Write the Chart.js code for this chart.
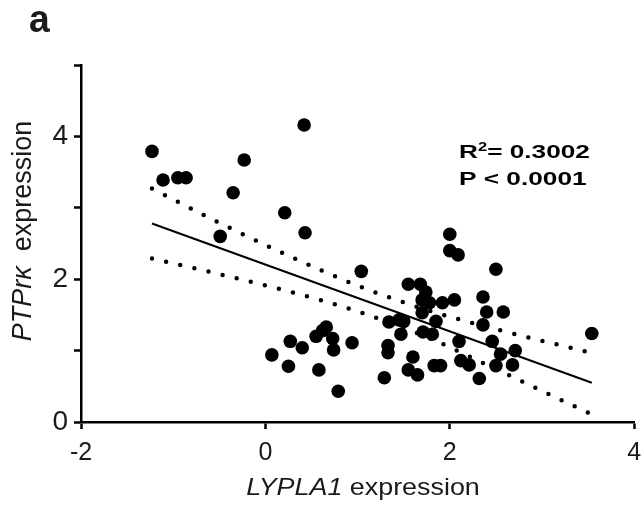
<!DOCTYPE html>
<html>
<head>
<meta charset="utf-8">
<script src="https://cdn.jsdelivr.net/npm/chart.js@4.4.0/dist/chart.umd.min.js"></script>
<style>
  html, body { margin: 0; padding: 0; background: #fff; }
  #wrap { width: 641px; height: 511px; }
</style>
</head>
<body>
<div id="wrap"><canvas id="canvas" width="641" height="511"></canvas></div>
<script>
// LYPLA1 (x) vs PTPrk (y) expression
const lyplaX = [-1.23, -1.11, -0.95, -0.86, -0.23, -0.35, -0.49, 0.21, 0.42, 0.43,
    1.04, 1.55, 1.68, 1.74, 1.70, 1.78, 1.92, 2.05, 1.70, 1.85,
    1.50, 1.47, 1.34, 1.45, 1.71, 1.81, 2.10, 2.00, 2.00, 2.09,
    2.50, 2.36, 2.40, 2.58, 2.36, 2.46, 2.55, 2.71, 2.68, 2.50,
    2.12, 2.21, 2.32, 1.60, 1.55, 1.65, 1.83, 1.90, 3.54, 1.33,
    1.33, 1.29, 0.66, 0.55, 0.73, 0.27, 0.40, 0.74, 0.94, 0.07,
    0.25, 0.58, 0.79, 0.62];
const ptprkY = [3.79, 3.39, 3.42, 3.42, 3.67, 3.21, 2.60, 2.93, 4.16, 2.65,
    2.11, 1.93, 1.93, 1.82, 1.71, 1.67, 1.67, 1.71, 1.53, 1.41,
    1.41, 1.23, 1.40, 1.43, 1.26, 1.23, 1.13, 2.63, 2.40, 2.34,
    2.14, 1.75, 1.54, 1.54, 1.36, 1.13, 0.95, 1.00, 0.80, 0.79,
    0.86, 0.80, 0.61, 0.91, 0.73, 0.66, 0.79, 0.79, 1.24, 1.07,
    0.97, 0.62, 1.33, 1.20, 1.17, 1.13, 1.04, 1.01, 1.11, 0.94,
    0.78, 0.73, 0.43, 1.28];

// fitted line end points
const fitX = [-1.23, 3.54];
const fitY = [2.78, 0.55];

// 95% band, read at a few x positions
const bandX = [-1.23, -0.5, 0.25, 1.0, 1.75, 2.5, 3.5];
const bandUpper = [3.27, 2.79, 2.33, 1.91, 1.57, 1.30, 0.98];
const bandLower = [2.29, 2.07, 1.83, 1.55, 1.19, 0.74, 0.13];

const xTicks = [-2, 0, 2, 4];
const yTickLabels = [0, 2, 4];

const FONT = '"Liberation Sans", Arial, sans-serif';

function toPoints(xs, ys) {
    return xs.map((x, i) => ({ x: x, y: ys[i] }));
}

// draws mixed italic/regular text stretched horizontally by sx
function mixedText(ctx, parts, x, y, size, sx) {
    ctx.save();
    ctx.translate(x, y);
    ctx.scale(sx, 1);
    let cx = 0;
    parts.forEach(p => {
        ctx.font = p.style + ' ' + size + 'px ' + FONT;
        ctx.fillText(p.text, cx, 0);
        cx += ctx.measureText(p.text).width;
    });
    ctx.restore();
    return cx * sx;
}

function textWidth(ctx, parts, size, sx) {
    let w = 0;
    parts.forEach(p => {
        ctx.font = p.style + ' ' + size + 'px ' + FONT;
        w += ctx.measureText(p.text).width;
    });
    return w * sx;
}

const textPlugin = {
    id: 'texts',
    afterDraw(chart) {
        const ctx = chart.ctx;
        ctx.save();
        ctx.fillStyle = '#1a1a1a';
        ctx.textBaseline = 'alphabetic';

        // panel letter
        mixedText(ctx, [{ style: 'bold', text: 'a' }], 29, 32, 38, 0.98);

        // stats
        ctx.fillStyle = '#000';
        const sx = 1.38;
        const wR = mixedText(ctx, [{ style: 'bold', text: 'R' }], 459, 158, 19, sx);
        const w2 = mixedText(ctx, [{ style: 'bold', text: '2' }], 459 + wR, 151, 12, sx);
        mixedText(ctx, [{ style: 'bold', text: '= 0.3002' }], 459 + wR + w2, 158, 19, sx);
        mixedText(ctx, [{ style: 'bold', text: 'P < 0.0001' }], 459, 185, 19, sx);

        // x title
        ctx.fillStyle = '#1a1a1a';
        const xParts = [{ style: 'italic', text: 'LYPLA1' }, { style: 'normal', text: ' expression' }];
        const xw = textWidth(ctx, xParts, 24, 1.12);
        mixedText(ctx, xParts, 363 - xw / 2, 495, 24, 1.12);

        // y title
        const yParts = [{ style: 'italic', text: 'PTPrκ' }, { style: 'normal', text: '  expression' }];
        const yw = textWidth(ctx, yParts, 27, 1);
        ctx.translate(31, 231);
        ctx.rotate(-Math.PI / 2);
        mixedText(ctx, yParts, -yw / 2, 0, 27, 1);
        ctx.restore();
    }
};

const ctx = document.getElementById('canvas').getContext('2d');
new Chart(ctx, {
    type: 'scatter',
    data: {
        datasets: [
            {
                label: 'samples',
                data: toPoints(lyplaX, ptprkY),
                backgroundColor: '#000',
                borderWidth: 0,
                pointRadius: 6.8
            },
            {
                label: 'fit',
                data: toPoints(fitX, fitY),
                showLine: true,
                borderColor: '#000',
                borderWidth: 2,
                pointRadius: 0
            },
            {
                label: 'upper',
                data: toPoints(bandX, bandUpper),
                showLine: true,
                borderColor: '#000',
                borderWidth: 4.5,
                borderDash: [0, 14.5],
                borderCapStyle: 'round',
                cubicInterpolationMode: 'monotone',
                pointRadius: 0
            },
            {
                label: 'lower',
                data: toPoints(bandX, bandLower),
                showLine: true,
                borderColor: '#000',
                borderWidth: 4.5,
                borderDash: [0, 14.5],
                borderCapStyle: 'round',
                cubicInterpolationMode: 'monotone',
                pointRadius: 0
            }
        ]
    },
    options: {
        responsive: false,
        animation: false,
        layout: { padding: { top: 65, right: 5, left: 0, bottom: 0 } },
        plugins: {
            legend: { display: false },
            tooltip: { enabled: false }
        },
        scales: {
            x: {
                type: 'linear',
                min: -2,
                max: 4,
                afterBuildTicks: (scale) => {
                    scale.ticks = xTicks.map(v => ({ value: v }));
                },
                afterFit: (scale) => {
                    scale.height = 89;
                    scale.paddingLeft = 0;
                    scale.paddingRight = 0;
                },
                ticks: {
                    color: '#1a1a1a',
                    font: { family: FONT, size: 25 },
                    padding: 9,
                    maxRotation: 0
                },
                grid: {
                    drawOnChartArea: false,
                    tickLength: 7,
                    tickColor: '#000',
                    tickWidth: 2.5
                },
                border: { color: '#000', width: 2.5 }
            },
            y: {
                min: 0,
                max: 5,
                ticks: {
                    stepSize: 1,
                    color: '#1a1a1a',
                    font: { family: FONT, size: 28 },
                    padding: 6,
                    callback: (v) => yTickLabels.includes(v) ? String(v) : ''
                },
                afterFit: (scale) => {
                    scale.width = 81;
                    scale.paddingTop = 0;
                    scale.paddingBottom = 0;
                },
                grid: {
                    drawOnChartArea: false,
                    tickLength: 7,
                    tickColor: '#000',
                    tickWidth: 2.5
                },
                border: { color: '#000', width: 2.5 }
            }
        }
    },
    plugins: [textPlugin]
});
</script>
</body>
</html>
